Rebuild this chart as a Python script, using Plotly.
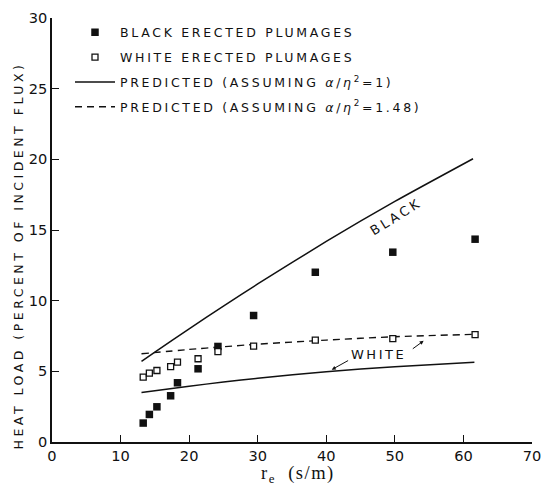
import plotly.graph_objects as go

# Resistance values r_e (s/m) at which the plumages were measured
re_values = [13.3, 14.2, 15.3, 17.3, 18.3, 21.3, 24.2, 29.4, 38.4, 49.7, 61.7]
black_heat_load = [1.34, 1.95, 2.49, 3.27, 4.19, 5.18, 6.76, 8.95, 12.01, 13.43, 14.35]
white_heat_load = [4.59, 4.88, 5.06, 5.34, 5.65, 5.89, 6.40, 6.78, 7.21, 7.32, 7.60]

# Model predictions
pred_black_x = [13.05, 15, 20, 25, 30, 40, 50, 61.4]
pred_black_y = [5.70, 6.36, 8.01, 9.62, 11.18, 14.19, 17.02, 20.04]

pred_white_x = [13.05, 20, 25, 30, 40, 50, 61.6]
pred_white_y = [3.51, 3.95, 4.24, 4.51, 4.97, 5.33, 5.64]

pred_white_148_x = [13.05, 20, 25, 30, 40, 50, 61.7]
pred_white_148_y = [6.24, 6.55, 6.74, 6.92, 7.21, 7.45, 7.62]

x_ticks = [0, 10, 20, 30, 40, 50, 60, 70]
y_ticks = [0, 5, 10, 15, 20, 25, 30]

INK = "#111111"
FONT = "DejaVu Sans"


def spaced(txt, px=2.7):
    return f"<span style='letter-spacing:{px}px'>{txt}</span>"


fig = go.Figure()

fig.add_trace(go.Scatter(
    x=pred_black_x, y=pred_black_y, mode="lines",
    line=dict(color=INK, width=1.5, shape="spline", smoothing=0.6),
    name=spaced("PREDICTED (ASSUMING <i>α</i>/<i>η</i><sup>2</sup>=1)"),
    legendgroup="c", legendrank=3,
))
fig.add_trace(go.Scatter(
    x=pred_white_x, y=pred_white_y, mode="lines",
    line=dict(color=INK, width=1.5, shape="spline", smoothing=0.6),
    showlegend=False, legendgroup="c",
))
fig.add_trace(go.Scatter(
    x=pred_white_148_x, y=pred_white_148_y, mode="lines",
    line=dict(color=INK, width=1.4, dash="7px,5px", shape="spline", smoothing=0.6),
    name=spaced("PREDICTED (ASSUMING <i>α</i>/<i>η</i><sup>2</sup>=1.48)"),
    legendgroup="d", legendrank=4,
))
fig.add_trace(go.Scatter(
    x=re_values, y=black_heat_load, mode="markers",
    marker=dict(symbol="square", size=7.5, color=INK, line=dict(width=0)),
    name=spaced("BLACK ERECTED PLUMAGES"),
    legendgroup="a", legendrank=1,
))
fig.add_trace(go.Scatter(
    x=re_values, y=white_heat_load, mode="markers",
    marker=dict(symbol="square", size=6, color="white",
                line=dict(width=1.3, color=INK)),
    name=spaced("WHITE ERECTED PLUMAGES"),
    legendgroup="b", legendrank=2,
))

annotations = [
    # curve labels
    dict(x=50.2, y=15.95, xref="x", yref="y", text=spaced("BLACK", 3),
         showarrow=False, textangle=-32, font=dict(family=FONT, size=13, color=INK)),
    dict(x=47.6, y=6.17, xref="x", yref="y", text=spaced("WHITE", 2.5),
         showarrow=False, font=dict(family=FONT, size=13, color=INK)),
    dict(x=40.8, y=5.12, ax=43.4, ay=5.82, xref="x", yref="y", axref="x", ayref="y",
         text="", showarrow=True, arrowhead=2, arrowsize=0.8, arrowwidth=1,
         arrowcolor=INK),
    dict(x=54.2, y=7.16, ax=52.4, ay=6.52, xref="x", yref="y", axref="x", ayref="y",
         text="", showarrow=True, arrowhead=2, arrowsize=0.8, arrowwidth=1,
         arrowcolor=INK),
    # axis titles
    dict(x=0, y=0.44, xref="paper", yref="paper", xshift=-34,
         text=spaced("HEAT LOAD (PERCENT OF INCIDENT FLUX)", 3.5), textangle=-90,
         showarrow=False, xanchor="center", yanchor="middle",
         font=dict(family=FONT, size=12.5, color=INK)),
    dict(x=0.5125, y=-0.0775, xref="paper", yref="paper",
         text=spaced("r<sub>e</sub>\u00a0\u00a0(s/m)", 1.5), showarrow=False,
         xanchor="center", yanchor="middle",
         font=dict(family="Liberation Serif", size=18.5, color=INK)),
]

axis_common = dict(
    showgrid=False, zeroline=False, showline=True, linecolor=INK, linewidth=1.5,
    ticks="inside", ticklen=7, tickwidth=1.3, tickcolor=INK,
    tickfont=dict(family=FONT, size=14.6, color=INK),
    ticklabeloverflow="allow", automargin=False,
)

fig.update_layout(
    width=541, height=486, autosize=False,
    margin=dict(l=52, r=9, t=18, b=44),
    paper_bgcolor="white", plot_bgcolor="white",
    xaxis=dict(range=[0, 70], tickvals=x_ticks, **axis_common),
    yaxis=dict(range=[0, 30], tickvals=y_ticks, **axis_common),
    showlegend=True,
    legend=dict(x=0.0375, y=1.001, xanchor="left", yanchor="top",
                bgcolor="rgba(0,0,0,0)", borderwidth=0,
                font=dict(family=FONT, size=12.5, color=INK),
                itemwidth=40, tracegroupgap=5.6, traceorder="grouped"),
    annotations=annotations,
)

fig.write_html("out.html")
